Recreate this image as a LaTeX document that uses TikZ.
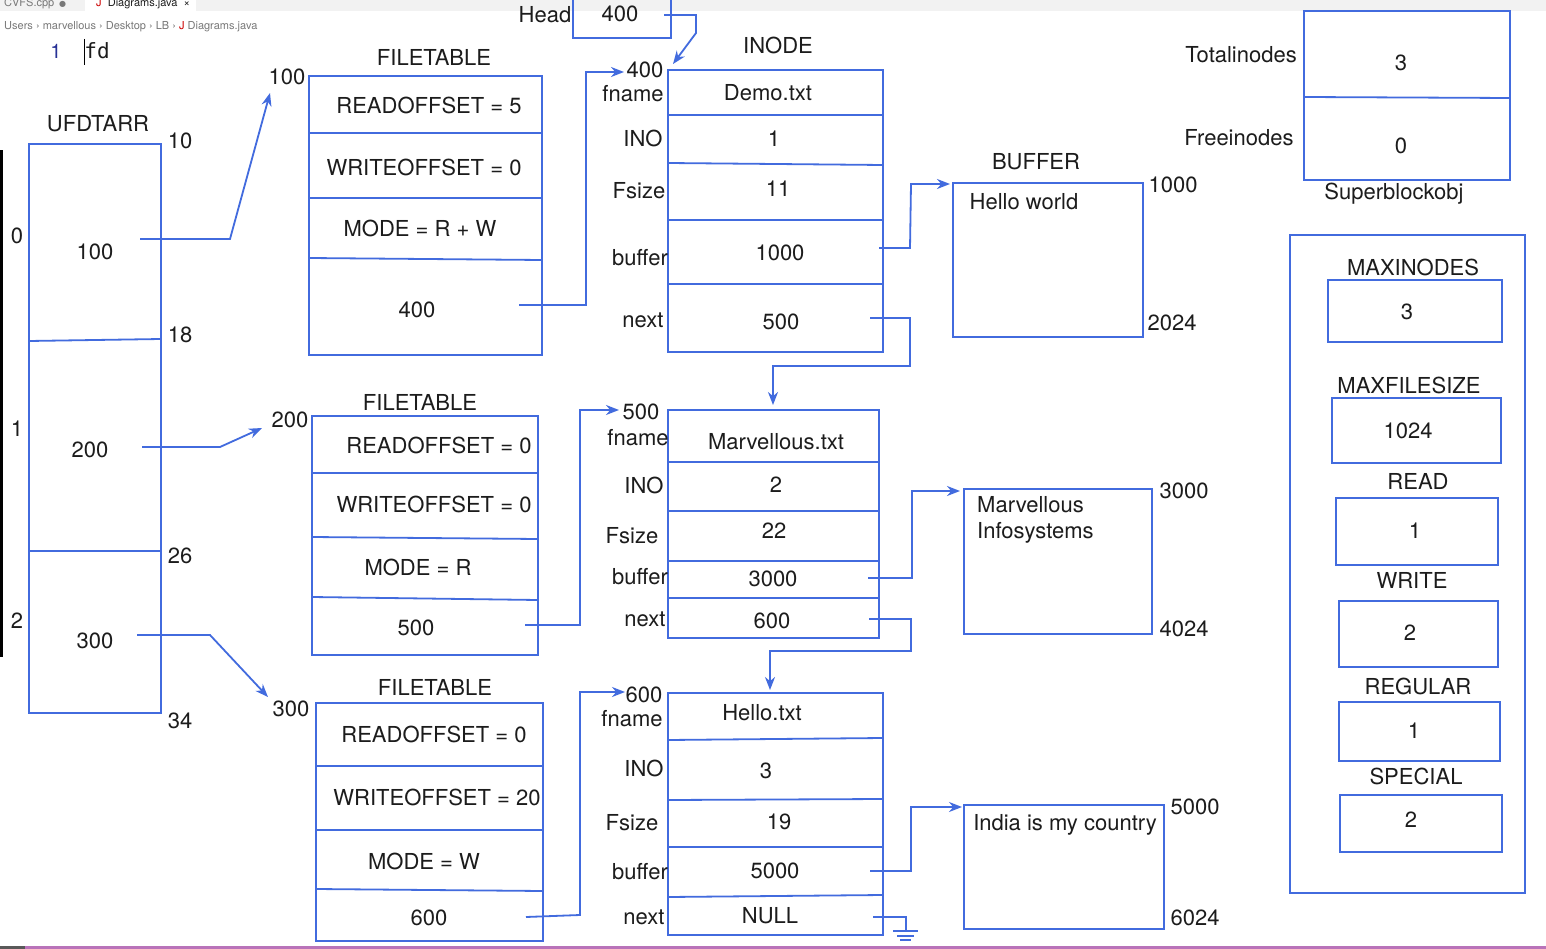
\documentclass[tikz,border=0pt]{standalone}
\usepackage{fontspec}
\setmainfont{TeX Gyre Heros}
\newfontfamily\monof{DejaVu Sans Mono}
\newfontfamily\dejav{DejaVu Sans}
\usetikzlibrary{arrows.meta}
\definecolor{lb}{RGB}{66,107,222}
\definecolor{tx}{RGB}{28,28,28}
\definecolor{uigray}{RGB}{120,120,120}
\tikzset{
 ln/.style={draw=lb, line width=1.8pt},
 box/.style={ln, inner sep=0pt, outer sep=0pt},
 arr/.style={ln, -{Stealth[length=13pt,width=10pt]}},
 t/.style={inner sep=0pt, text=tx, font=\fontsize{22}{26}\selectfont},
 ui/.style={inner sep=0pt, text=uigray, font=\fontsize{11}{13}\selectfont},
}
\newcommand\bx[5]{\node[box,minimum width={#4-#2},minimum height={#5-#3}] (#1) at ({(#2+#4)/2},{(#3+#5)/2}) {};}
\begin{document}
\begin{tikzpicture}[x=1pt,y=-1pt]
\useasboundingbox (0,0) rectangle (1546,949);
\fill[white] (0,0) rectangle (1546,949);
% editor chrome
\fill[gray!10] (0,0) rectangle (1546,11);
\fill[white] (85,0) rectangle (196,11);
\node[ui, anchor=west] (tab1) at (4,4) {CVFS.cpp \,{\dejav\fontsize{8}{9}\selectfont ●}};
\node[ui, anchor=west, text=tx] (tab2) at (96,4) {{\color{red!80!black}J}\ \ Diagrams.java \ ×};
\node[ui, anchor=west] (crumb) at (4,27) {Users › marvellous › Desktop › LB › {\color{red!80!black}J} Diagrams.java};
\node[inner sep=0pt, text={rgb,255:red,40;green,50;blue,150}, font=\fontsize{20}{22}\selectfont] (ln1) at (56,51) {1};
\node[inner sep=0pt, text=tx, font=\monof\fontsize{21}{24}\selectfont] (fd) at (97,51) {fd};
\draw[black, line width=1pt] (84,39) -- (84,65);
\fill[black] (0,150) rectangle (2.5,657);
\fill[gray!70!black] (0,946) rectangle (25,949);
\fill[violet!55] (25,946) rectangle (1546,949);

% ---------- UFDTARR ----------
\node[t] (ufdT) at (98,124) {UFDTARR};
\bx{ufd}{29}{144}{161}{713}
\draw[ln] (29,341) -- (161,339);
\draw[ln] (29,551) -- (161,551);
\node[t] (u0) at (17,236) {0};
\node[t] (u1) at (17,429) {1};
\node[t] (u2) at (17,621) {2};
\node[t] (u10) at (180,141) {10};
\node[t] (u18) at (180,335) {18};
\node[t] (u26) at (180,556) {26};
\node[t] (u34) at (180,721) {34};
\node[t] (uv100) at (95,252) {100};
\node[t] (uv200) at (90,450) {200};
\node[t] (uv300) at (95,641) {300};

% ---------- FILETABLE 1 ----------
\node[t] (ft1T) at (434,57) {FILETABLE};
\node[t] (ft1a) at (287,77) {100};
\bx{ft1}{309}{76}{542}{355}
\draw[ln] (309,133) -- (542,133);
\draw[ln] (309,198) -- (542,198);
\draw[ln] (309,258) -- (542,260);
\node[t] (ft1r) at (429,105) {READOFFSET = 5};
\node[t] (ft1w) at (424,167) {WRITEOFFSET = 0};
\node[t] (ft1m) at (420,228) {MODE = R + W};
\node[t] (ft1p) at (417,310) {400};

% ---------- FILETABLE 2 ----------
\node[t] (ft2T) at (420,402) {FILETABLE};
\node[t] (ft2a) at (290,420) {200};
\bx{ft2}{312}{416}{538}{655}
\draw[ln] (312,473) -- (538,473);
\draw[ln] (312,537) -- (538,539);
\draw[ln] (312,597) -- (538,600);
\node[t] (ft2r) at (439,445) {READOFFSET = 0};
\node[t] (ft2w) at (434,504) {WRITEOFFSET = 0};
\node[t] (ft2m) at (418,567) {MODE = R};
\node[t] (ft2p) at (416,628) {500};

% ---------- FILETABLE 3 ----------
\node[t] (ft3T) at (435,687) {FILETABLE};
\node[t] (ft3a) at (291,709) {300};
\bx{ft3}{316}{703}{543}{941}
\draw[ln] (316,766) -- (543,766);
\draw[ln] (316,830) -- (543,830);
\draw[ln] (316,889) -- (543,891);
\node[t] (ft3r) at (434,734) {READOFFSET = 0};
\node[t] (ft3w) at (437,797) {WRITEOFFSET = 20};
\node[t] (ft3m) at (424,861) {MODE = W};
\node[t] (ft3p) at (429,918) {600};

% ---------- Head ----------
\node[t] (headT) at (545,15) {Head};
\bx{head}{573}{-6}{671}{38}
\node[t] (headV) at (620,14) {400};

% ---------- INODE 1 ----------
\node[t] (inT) at (778,45) {INODE};
\bx{in1}{668}{70}{883}{352}
\draw[ln] (668,115) -- (883,115);
\draw[ln] (668,163) -- (883,165);
\draw[ln] (668,220) -- (883,220);
\draw[ln] (668,284) -- (883,284);
\node[t] (i1v1) at (768,93) {Demo.txt};
\node[t] (i1v2) at (774,139) {1};
\node[t] (i1v3) at (778,189) {11};
\node[t] (i1v4) at (780,253) {1000};
\node[t] (i1v5) at (781,322) {500};
\node[t] (i1a) at (645,70) {400};
\node[t] (i1l1) at (633,94) {fname};
\node[t] (i1l2) at (643,138) {INO};
\node[t] (i1l3) at (639,191) {Fsize};
\node[t] (i1l4) at (640,258) {buffer};
\node[t] (i1l5) at (643,320) {next};

% ---------- INODE 2 ----------
\bx{in2}{668}{410}{879}{638}
\draw[ln] (668,462) -- (879,462);
\draw[ln] (668,511) -- (879,511);
\draw[ln] (668,561) -- (879,561);
\draw[ln] (668,598) -- (879,598);
\node[t] (i2v1) at (776,442) {Marvellous.txt};
\node[t] (i2v2) at (776,485) {2};
\node[t] (i2v3) at (774,531) {22};
\node[t] (i2v4) at (773,579) {3000};
\node[t] (i2v5) at (772,621) {600};
\node[t] (i2a) at (641,412) {500};
\node[t] (i2l1) at (638,438) {fname};
\node[t] (i2l2) at (644,485) {INO};
\node[t] (i2l3) at (632,536) {Fsize};
\node[t] (i2l4) at (640,577) {buffer};
\node[t] (i2l5) at (645,619) {next};

% ---------- INODE 3 ----------
\bx{in3}{668}{693}{883}{935}
\draw[ln] (668,740) -- (883,738);
\draw[ln] (668,800) -- (883,799);
\draw[ln] (668,847) -- (883,847);
\draw[ln] (668,897) -- (883,895);
\node[t] (i3v1) at (762,713) {Hello.txt};
\node[t] (i3v2) at (766,771) {3};
\node[t] (i3v3) at (779,822) {19};
\node[t] (i3v4) at (775,871) {5000};
\node[t] (i3v5) at (770,916) {NULL};
\node[t] (i3a) at (644,695) {600};
\node[t] (i3l1) at (632,719) {fname};
\node[t] (i3l2) at (644,768) {INO};
\node[t] (i3l3) at (632,823) {Fsize};
\node[t] (i3l4) at (640,872) {buffer};
\node[t] (i3l5) at (644,917) {next};

% ---------- BUFFERS ----------
\node[t] (bufT) at (1036,162) {BUFFER};
\bx{b1}{953}{183}{1143}{337}
\node[t] (b1t) at (1024,202) {Hello world};
\node[t] (b1s) at (1173,185) {1000};
\node[t] (b1e) at (1172,323) {2024};
\bx{b2}{964}{489}{1152}{634}
\node[t, anchor=west] (b2t1) at (977,505) {Marvellous};
\node[t, anchor=west] (b2t2) at (977,533) {Infosystems};
\node[t] (b2s) at (1184,491) {3000};
\node[t] (b2e) at (1184,629) {4024};
\bx{b3}{964}{805}{1164}{929}
\node[t] (b3t) at (1065,825) {India is my country};
\node[t] (b3s) at (1195,807) {5000};
\node[t] (b3e) at (1195,918) {6024};

% ---------- Superblock ----------
\bx{sb}{1304}{11}{1510}{180}
\draw[ln] (1304,97) -- (1510,98);
\node[t] (sbv1) at (1401,63) {3};
\node[t] (sbv2) at (1401,146) {0};
\node[t] (sbl1) at (1241,55) {Totalinodes};
\node[t] (sbl2) at (1239,138) {Freeinodes};
\node[t] (sbT) at (1394,194) {Superblockobj};

% ---------- constants panel ----------
\bx{panel}{1290}{235}{1525}{893}
\node[t] (c1T) at (1413,267) {MAXINODES};
\bx{c1}{1328}{280}{1502}{342}
\node[t] (c1v) at (1407,312) {3};
\node[t] (c2T) at (1409,385) {MAXFILESIZE};
\bx{c2}{1332}{398}{1501}{463}
\node[t] (c2v) at (1408,431) {1024};
\node[t] (c3T) at (1418,481) {READ};
\bx{c3}{1336}{498}{1498}{565}
\node[t] (c3v) at (1415,531) {1};
\node[t] (c4T) at (1412,580) {WRITE};
\bx{c4}{1339}{601}{1498}{667}
\node[t] (c4v) at (1410,633) {2};
\node[t] (c5T) at (1418,686) {REGULAR};
\bx{c5}{1339}{702}{1500}{761}
\node[t] (c5v) at (1414,731) {1};
\node[t] (c6T) at (1416,776) {SPECIAL};
\bx{c6}{1340}{795}{1502}{852}
\node[t] (c6v) at (1411,820) {2};

% ---------- connector endpoints ----------
\coordinate (s100) at (140,239);  \coordinate (e100) at (270,93);
\coordinate (s200) at (142,447);  \coordinate (e200) at (262,428);
\coordinate (s300) at (137,635);  \coordinate (e300) at (268,697);
\coordinate (sf1) at (519,305);   \coordinate (ef1) at (624,72);
\coordinate (sf2) at (525,625);   \coordinate (ef2) at (619,410);
\coordinate (sf3) at (526,917);   \coordinate (ef3) at (625,692);
\coordinate (sh) at (664,15);     \coordinate (eh) at (673,64);
\coordinate (sn1) at (870,318);   \coordinate (en1) at (773,405);
\coordinate (sn2) at (869,619);   \coordinate (en2) at (770,690);
\coordinate (sn3) at (873,917);   \coordinate (gnd) at (906,931);
\coordinate (sb1) at (879,248);   \coordinate (eb1) at (950,184);
\coordinate (sb2) at (868,578);   \coordinate (eb2) at (960,491);
\coordinate (sb3) at (870,871);   \coordinate (eb3) at (962,807);

% ---------- connectors ----------
\draw[arr] (s100) -- (230,239) -- (e100);
\draw[arr] (s200) -- (220,447) -- (e200);
\draw[arr] (s300) -- (210,635) -- (e300);
\draw[arr] (sf1) -- (586,305) -- (586,72) -- (ef1);
\draw[arr] (sf2) -- (580,625) -- (580,410) -- (ef2);
\draw[arr] (sf3) -- (580,915) -- (580,692) -- (ef3);
\draw[arr] (sh) -- (696,15) -- (696,33) -- (eh);
\draw[arr] (sn1) -- (910,318) -- (910,366) -- (773,366) -- (en1);
\draw[arr] (sn2) -- (911,619) -- (911,651) -- (770,651) -- (en2);
\draw[arr] (sb1) -- (910,248) -- (911,184) -- (eb1);
\draw[arr] (sb2) -- (912,578) -- (912,491) -- (eb2);
\draw[arr] (sb3) -- (911,871) -- (911,807) -- (eb3);
\draw[ln] (sn3) -- (906,917) -- (gnd);
\draw[ln] ([xshift=-13pt]gnd) -- ([xshift=12pt]gnd);
\draw[ln, line width=1.5pt] ([xshift=-9pt,yshift=-5pt]gnd) -- ([xshift=8pt,yshift=-5pt]gnd);
\draw[ln, line width=1.3pt] ([xshift=-6pt,yshift=-9pt]gnd) -- ([xshift=5pt,yshift=-9pt]gnd);
\end{tikzpicture}
\end{document}
